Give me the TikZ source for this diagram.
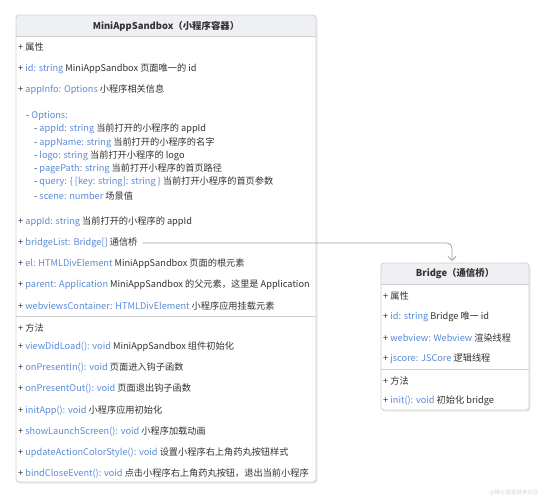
\documentclass[tikz,border=0pt]{standalone}
\usepackage{fontspec}
\setmainfont{Noto Sans CJK SC}
\usetikzlibrary{arrows.meta}
\definecolor{txtc}{HTML}{333333}
\definecolor{typc}{HTML}{5B8BD6}
\definecolor{linec}{HTML}{CFCFCF}
\definecolor{headc}{HTML}{EEF0F3}
\definecolor{arrc}{HTML}{A0A0A0}
\definecolor{shadc}{HTML}{EBEBEB}
\definecolor{wmc}{HTML}{D2D2D2}
\newcommand\ty[1]{\textcolor{typc}{#1}}
\begin{document}
\begin{tikzpicture}[x=1pt,y=-1pt,
  txt/.style={anchor=west, inner sep=0pt, text=txtc, font=\fontsize{9.2}{11}\selectfont},
  head/.style={inner sep=0pt, text=txtc, font=\bfseries\fontsize{9.4}{11}\selectfont},
  border/.style={draw=linec, line width=0.8pt, rounded corners=3pt},
  divider/.style={draw=linec, line width=0.8pt},
  link/.style={draw=arrc, line width=0.8pt, rounded corners=5pt, -{Straight Barb[length=4pt,width=8pt]}}]
\useasboundingbox (0,0) rectangle (545,500);
% ---------- MiniAppSandbox box ----------
\fill[shadc, rounded corners=3pt] (17,16.5) rectangle (317.5,483.5);
\fill[white, rounded corners=3pt] (16,15) rectangle (316,482);
\begin{scope}
  \clip[rounded corners=3pt] (16,15) rectangle (316,482);
  \fill[headc] (16,15) rectangle (316,36);
\end{scope}
\draw[border] (16,15) rectangle (316,482);
\draw[divider] (16,36) -- (316,36);
\draw[divider] (16,316) -- (316,316);
\node[head] (sbtitle) at (166,26) {MiniAppSandbox（小程序容器）};
\node[txt] (sbattr) at (18,47) {+ 属性};
\node[txt] (sbid) at (18,69) {+ \ty{id: string} MiniAppSandbox 页面唯一的 id};
\node[txt] (sbinfo) at (18,90) {+ \ty{appInfo: Options} 小程序相关信息};
\node[txt] (opt) at (26,116) {- \ty{Options:}};
\node[txt] (optid) at (34,129) {- \ty{appId: string} 当前打开的小程序的 appId};
\node[txt] (optname) at (34,143) {- \ty{appName: string} 当前打开的小程序的名字};
\node[txt] (optlogo) at (34,156) {- \ty{logo: string} 当前打开小程序的 logo};
\node[txt] (optpath) at (34,169) {- \ty{pagePath: string} 当前打开小程序的首页路径};
\node[txt] (optquery) at (34,182) {- \ty{query: \{ [key: string]: string \}} 当前打开小程序的首页参数};
\node[txt] (optscene) at (34,196) {- \ty{scene: number} 场景值};
\node[txt] (sbappid) at (18,222) {+ \ty{appId: string} 当前打开的小程序的 appId};
\node[txt] (bl) at (18,243) {+ \ty{bridgeList: Bridge[]} 通信桥};
\node[txt] (sbel) at (18,264) {+ \ty{el: HTMLDivElement} MiniAppSandbox 页面的根元素};
\node[txt] (sbparent) at (18,285) {+ \ty{parent: Application} MiniAppSandbox 的父元素，这里是 Application};
\node[txt] (sbwv) at (18,306) {+ \ty{webviewsContainer: HTMLDivElement} 小程序应用挂载元素};
\node[txt] (sbmeth) at (18,328) {+ 方法};
\node[txt] (m1) at (18,347) {+ \ty{viewDidLoad(): void} MiniAppSandbox 组件初始化};
\node[txt] (m2) at (18,368) {+ \ty{onPresentIn(): void} 页面进入钩子函数};
\node[txt] (m3) at (18,389) {+ \ty{onPresentOut(): void} 页面退出钩子函数};
\node[txt] (m4) at (18,411) {+ \ty{initApp(): void} 小程序应用初始化};
\node[txt] (m5) at (18,432) {+ \ty{showLaunchScreen(): void} 小程序加载动画};
\node[txt] (m6) at (18,453) {+ \ty{updateActionColorStyle(): void} 设置小程序右上角药丸按钮样式};
\node[txt] (m7) at (18,474) {+ \ty{bindCloseEvent(): void} 点击小程序右上角药丸按钮，退出当前小程序};
% ---------- Bridge box ----------
\fill[shadc, rounded corners=3pt] (382,264.5) rectangle (530.5,411.5);
\fill[white, rounded corners=3pt] (381,263) rectangle (529,410);
\begin{scope}
  \clip[rounded corners=3pt] (381,263) rectangle (529,410);
  \fill[headc] (381,263) rectangle (529,284);
\end{scope}
\draw[border] (381,263) rectangle (529,410);
\coordinate (bridgetop) at (452,261);
\draw[divider] (381,284) -- (529,284);
\draw[divider] (381,369) -- (529,369);
\node[head] (brtitle) at (455,274) {Bridge（通信桥）};
\node[txt] (brattr) at (383,296) {+ 属性};
\node[txt] (brid) at (383,317) {+ \ty{id: string} Bridge 唯一 id};
\node[txt] (brwv) at (383,338) {+ \ty{webview: Webview} 渲染线程};
\node[txt] (brjs) at (383,359) {+ \ty{jscore: JSCore} 逻辑线程};
\node[txt] (brmeth) at (383,381) {+ 方法};
\node[txt] (brinit) at (383,401) {+ \ty{init(): void} 初始化 bridge};
% ---------- connector ----------
\draw[link] ([xshift=5pt]bl.east) -| (bridgetop);
% ---------- watermark ----------
\node[inner sep=0pt, text=wmc, font=\fontsize{5.5}{6}\selectfont] (wm) at (514,493) {@稀土掘金技术社区};
\end{tikzpicture}
\end{document}
